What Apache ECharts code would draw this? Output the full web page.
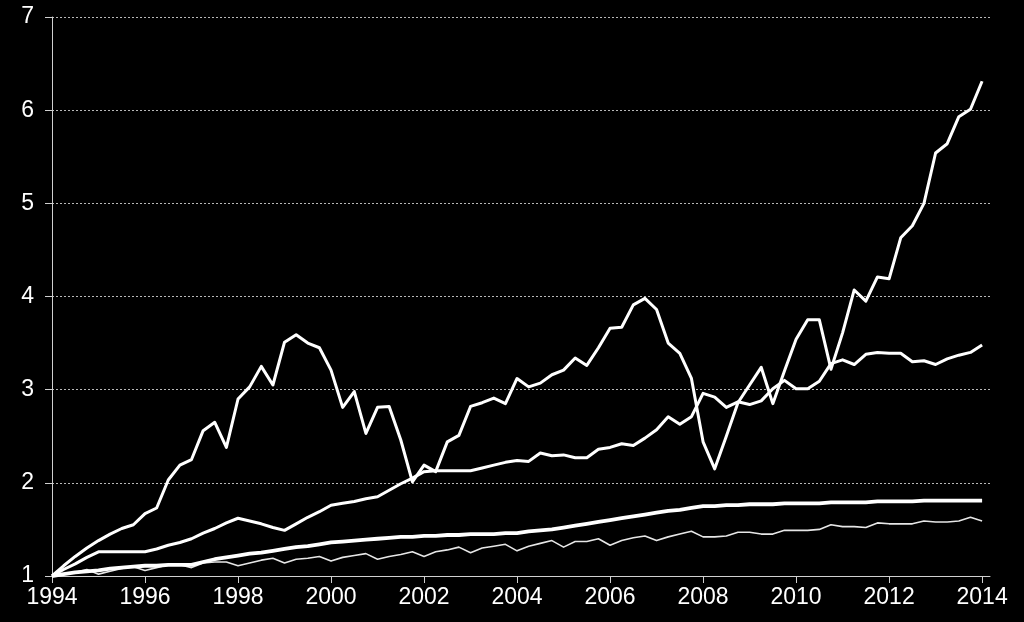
<!DOCTYPE html>
<html>
<head>
<meta charset="utf-8">
<title>Index chart 1994-2014</title>
<script src="https://cdn.jsdelivr.net/npm/echarts@6/dist/echarts.min.js"></script>
<style>
    html, body { margin: 0; padding: 0; background: #000; }
    #chart { width: 1024px; height: 622px; }
</style>
</head>
<body>
<div id="chart"></div>
<script>
// quarterly observations, 1994Q1 .. 2014Q1
const quarters = Array.from({ length: 81 }, (_, i) => 1994 + i * 0.25);
const yearTicks = [1994, 1996, 1998, 2000, 2002, 2004, 2006, 2008, 2010, 2012, 2014];

// most volatile series (peaks 1999, 2006, surge after 2011)
const seriesA = [
    1.00, 1.11, 1.21, 1.30, 1.38, 1.45, 1.51, 1.55,
    1.67, 1.73, 2.03, 2.19, 2.25, 2.56, 2.65, 2.38,
    2.90, 3.03, 3.25, 3.05, 3.51, 3.59, 3.50, 3.45,
    3.21, 2.81, 2.98, 2.53, 2.81, 2.82, 2.46, 2.01,
    2.19, 2.12, 2.44, 2.51, 2.82, 2.86, 2.91, 2.85,
    3.12, 3.03, 3.07, 3.16, 3.21, 3.34, 3.26, 3.45,
    3.66, 3.67, 3.91, 3.98, 3.86, 3.50, 3.39, 3.12,
    2.44, 2.15, 2.50, 2.86, 3.05, 3.24, 2.85, 3.20,
    3.54, 3.75, 3.75, 3.22, 3.61, 4.07, 3.95, 4.21,
    4.19, 4.63, 4.76, 5.00, 5.54, 5.64, 5.93, 6.01,
    6.31
];

// middle series, ends near 3.5
const seriesB = [
    1.00, 1.07, 1.13, 1.20, 1.26, 1.26, 1.26, 1.26,
    1.26, 1.29, 1.33, 1.36, 1.40, 1.46, 1.51, 1.57,
    1.62, 1.59, 1.56, 1.52, 1.49, 1.56, 1.63, 1.69,
    1.76, 1.78, 1.80, 1.83, 1.85, 1.92, 1.99, 2.05,
    2.12, 2.13, 2.13, 2.13, 2.13, 2.16, 2.19, 2.22,
    2.24, 2.23, 2.32, 2.29, 2.30, 2.27, 2.27, 2.36,
    2.38, 2.42, 2.40, 2.48, 2.57, 2.71, 2.63, 2.71,
    2.96, 2.92, 2.81, 2.87, 2.84, 2.88, 3.01, 3.10,
    3.01, 3.01, 3.09, 3.28, 3.32, 3.27, 3.38, 3.40,
    3.39, 3.39, 3.30, 3.31, 3.27, 3.33, 3.37, 3.40,
    3.48
];

// smooth thick series, ends near 1.8
const seriesC = [
    1.00, 1.02, 1.04, 1.05, 1.06, 1.08, 1.09, 1.10,
    1.11, 1.11, 1.12, 1.12, 1.12, 1.15, 1.18, 1.20,
    1.22, 1.24, 1.25, 1.27, 1.29, 1.31, 1.32, 1.34,
    1.36, 1.37, 1.38, 1.39, 1.40, 1.41, 1.42, 1.42,
    1.43, 1.43, 1.44, 1.44, 1.45, 1.45, 1.45, 1.46,
    1.46, 1.48, 1.49, 1.50, 1.52, 1.54, 1.56, 1.58,
    1.60, 1.62, 1.64, 1.66, 1.68, 1.70, 1.71, 1.73,
    1.75, 1.75, 1.76, 1.76, 1.77, 1.77, 1.77, 1.78,
    1.78, 1.78, 1.78, 1.79, 1.79, 1.79, 1.79, 1.80,
    1.80, 1.80, 1.80, 1.81, 1.81, 1.81, 1.81, 1.81,
    1.81
];

// thin seasonal series, ends near 1.6
const seriesD = [
    1.00, 1.02, 1.04, 1.07, 1.02, 1.05, 1.08, 1.10,
    1.06, 1.09, 1.12, 1.12, 1.09, 1.14, 1.15, 1.15,
    1.11, 1.14, 1.17, 1.19, 1.14, 1.18, 1.19, 1.21,
    1.16, 1.20, 1.22, 1.24, 1.18, 1.21, 1.23, 1.26,
    1.21, 1.26, 1.28, 1.31, 1.25, 1.30, 1.32, 1.34,
    1.27, 1.32, 1.35, 1.38, 1.31, 1.37, 1.37, 1.40,
    1.33, 1.38, 1.41, 1.43, 1.38, 1.42, 1.45, 1.48,
    1.42, 1.42, 1.43, 1.47, 1.47, 1.45, 1.45, 1.49,
    1.49, 1.49, 1.50, 1.55, 1.53, 1.53, 1.52, 1.57,
    1.56, 1.56, 1.56, 1.59, 1.58, 1.58, 1.59, 1.63,
    1.59
];

const pairs = (vals) => vals.map((v, i) => [quarters[i], v]);

const chart = echarts.init(document.getElementById('chart'), null, { renderer: 'canvas' });

const labelFont = {
    color: '#fff',
    fontSize: 23,
    fontFamily: 'Liberation Sans, Arial, sans-serif'
};

const lineSeries = (name, vals, width, color) => ({
    name: name,
    type: 'line',
    data: pairs(vals),
    symbol: 'none',
    smooth: false,
    lineStyle: { color: color, width: width, join: 'round' },
    emphasis: { disabled: true },
    z: 3
});

chart.setOption({
    backgroundColor: '#000',
    animation: false,
    grid: {
        left: 52,
        right: 34,
        top: 17,
        bottom: 46,
        containLabel: false
    },
    xAxis: {
        type: 'value',
        min: 1994,
        max: 2014.17,
        axisLine: { show: true, lineStyle: { color: '#d0d0d0', width: 1 } },
        axisTick: {
            show: true,
            length: 7,
            customValues: yearTicks,
            lineStyle: { color: '#d0d0d0', width: 1 }
        },
        axisLabel: Object.assign({
            margin: 10,
            customValues: yearTicks,
            formatter: (v) => String(v)
        }, labelFont),
        splitLine: { show: false }
    },
    yAxis: {
        type: 'value',
        min: 1,
        max: 7,
        interval: 1,
        axisLine: { show: true, lineStyle: { color: '#d0d0d0', width: 1 } },
        axisTick: { show: true, length: 7, lineStyle: { color: '#d0d0d0', width: 1 } },
        axisLabel: Object.assign({ margin: 18 }, labelFont),
        splitLine: {
            show: true,
            lineStyle: { color: '#b8b8b8', width: 1, type: [2, 2] }
        }
    },
    series: [
        lineSeries('D', seriesD, 1.6, '#e6e6e6'),
        lineSeries('C', seriesC, 3.8, '#ffffff'),
        lineSeries('B', seriesB, 3, '#ffffff'),
        lineSeries('A', seriesA, 3, '#ffffff')
    ]
});
</script>
</body>
</html>
